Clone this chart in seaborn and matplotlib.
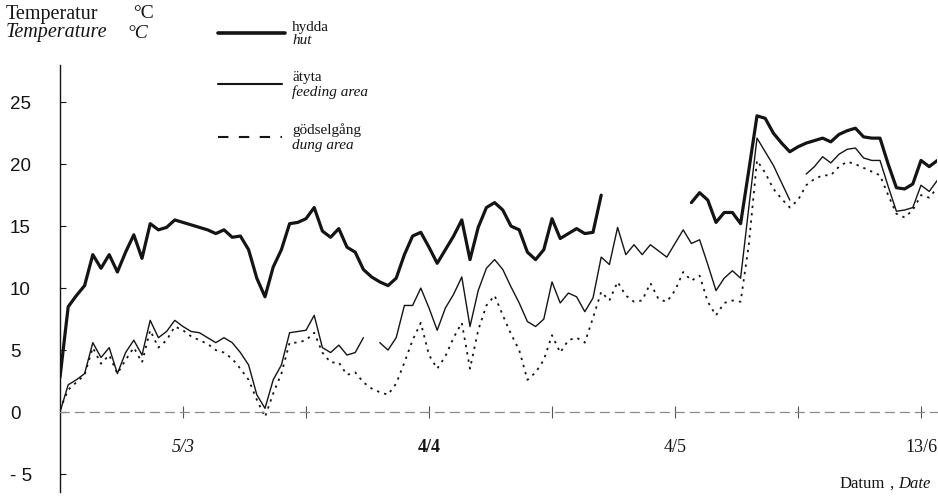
import numpy as np
import pandas as pd
import matplotlib
matplotlib.use("Agg")
import matplotlib.pyplot as plt
from matplotlib.lines import Line2D
import seaborn as sns

nan = np.nan
days = list(range(0, 108))

hut = [2.8, 8.5, 9.4, 10.2, 12.7, 11.6, 12.7, 11.3, 12.9, 14.3,
       12.4, 15.2, 14.7, 14.9, 15.5, 15.3, 15.1, 14.9, 14.7, 14.4,
       14.7, 14.1, 14.2, 13.1, 10.8, 9.3, 11.7, 13.1, 15.2, 15.3,
       15.6, 16.5, 14.6, 14.1, 14.8, 13.3, 12.9, 11.5, 10.9, 10.5,
       10.2, 10.8, 12.7, 14.2, 14.5, 13.3, 12.0, 13.1, 14.2, 15.5,
       12.3, 14.9, 16.5, 16.9, 16.3, 15.0, 14.7, 12.9, 12.3, 13.1,
       15.6, 14.0, 14.4, 14.8, 14.4, 14.5, 17.5, nan, nan, nan,
       nan, nan, nan, nan, nan, nan, nan, 16.9, 17.7, 17.1,
       15.3, 16.1, 16.1, 15.2, 19.5, 23.9, 23.7, 22.5, 21.7, 21.0,
       21.4, 21.7, 21.9, 22.1, 21.8, 22.4, 22.7, 22.9, 22.2, 22.1,
       22.1, 20.0, 18.1, 18.0, 18.4, 20.3, 19.8, 20.3]

feeding = [0.0, 2.2, 2.6, 3.1, 5.6, 4.4, 5.2, 3.1, 4.8, 5.8,
           4.6, 7.4, 6.0, 6.5, 7.4, 6.9, 6.5, 6.4, 6.0, 5.6,
           6.0, 5.6, 4.8, 3.8, 1.4, 0.3, 2.6, 3.8, 6.4, 6.5,
           6.6, 7.8, 5.2, 4.8, 5.4, 4.6, 4.8, 6.0, nan, 5.6,
           5.0, 6.0, 8.6, 8.6, 10.0, 8.4, 6.6, 8.4, 9.5, 10.9,
           6.9, 9.8, 11.6, 12.3, 11.5, 10.1, 8.8, 7.3, 6.9, 7.5,
           10.5, 8.8, 9.6, 9.3, 8.1, 9.2, 12.5, 11.9, 14.9, 12.7,
           13.5, 12.7, 13.5, 13.0, 12.5, 13.6, 14.7, 13.6, 13.9, 11.9,
           9.8, 10.8, 11.4, 10.8, 16.5, 22.1, 21.0, 19.9, 18.5, 17.1,
           nan, 19.2, 19.8, 20.6, 20.1, 20.8, 21.2, 21.3, 20.5, 20.3,
           20.3, 18.2, 16.2, 16.3, 16.5, 18.3, 17.8, 18.7]

dung = [0.2, 1.8, 2.4, 3.0, 5.2, 3.9, 4.6, 3.1, 4.2, 5.2,
        4.0, 6.6, 5.2, 5.8, 6.9, 6.6, 6.1, 5.8, 5.5, 5.0,
        4.8, 4.3, 3.5, 2.6, 1.0, -0.4, 1.5, 3.1, 5.6, 5.6,
        5.8, 6.4, 4.8, 4.0, 4.0, 3.0, 3.2, 2.4, 1.9, 1.6,
        1.4, 2.3, 4.0, 5.8, 7.2, 4.6, 3.5, 4.5, 6.0, 7.2,
        3.5, 6.6, 8.6, 9.4, 7.8, 6.3, 5.0, 2.6, 3.2, 4.2,
        6.2, 4.8, 5.8, 6.0, 5.6, 7.6, 9.7, 9.0, 10.5, 9.4,
        8.9, 9.0, 10.4, 9.1, 8.9, 9.8, 11.3, 10.6, 11.0, 8.9,
        7.8, 8.8, 9.0, 8.9, 13.5, 20.3, 19.3, 18.0, 17.2, 16.5,
        17.1, 18.3, 18.8, 19.1, 19.1, 19.8, 20.2, 20.0, 19.7, 19.4,
        19.1, 17.5, 16.0, 15.7, 16.3, 17.5, 17.3, 18.1]

yticks = [-5, 0, 5, 10, 15, 20, 25]
ytick_labels = ["- 5", "0", "5", "10", "15", "20", "25"]
xtick_pos = [15, 30, 45, 60, 75, 90, 105]
xtick_labels = ["5/3", "", "4/4", "", "4/5", "", "13/6"]

sns.set_theme(style="white")
plt.rcParams["font.family"] = ["Liberation Serif", "DejaVu Serif"]

W, H = 938, 497
fig = plt.figure(figsize=(W / 100, H / 100), dpi=100)
fig.patch.set_facecolor("white")
ax = fig.add_axes([60 / W, 5 / H, 877.4 / W, 427 / H])
ax.set_facecolor("white")

ink = "#141414"


def draw(values, **kw):
    df = pd.DataFrame({"day": days, "t": values})
    ok = df["t"].notna()
    grp = (~ok).cumsum()
    for _, seg in df[ok].groupby(grp[ok]):
        if len(seg) > 1:
            sns.lineplot(data=seg, x="day", y="t", ax=ax, estimator=None,
                         sort=False, legend=False, **kw)


draw(hut, color=ink, linewidth=2.3)
draw(feeding, color=ink, linewidth=1.0)
draw(dung, color=ink, linewidth=1.3, linestyle=(0, (1.3, 2.8)))

ax.set_xlim(0, 107)
ax.set_ylim(-6.45, 28.0)
ax.set_xlabel("")
ax.set_ylabel("")

for s in ["top", "right"]:
    ax.spines[s].set_visible(False)
ax.spines["left"].set_color(ink)
ax.spines["left"].set_linewidth(1.0)
ax.spines["bottom"].set_position(("data", 0))
ax.spines["bottom"].set_color("#8a8a8a")
ax.spines["bottom"].set_linewidth(0.9)
ax.spines["bottom"].set_linestyle((0, (7, 5)))

ax.set_yticks(yticks)
ax.set_yticklabels(ytick_labels, fontfamily="Liberation Sans", fontsize=13.5,
                   color=ink, ha="left")
ax.tick_params(axis="y", direction="in", length=4, width=0.8, color=ink,
               pad=36, left=True)
ax.set_xticks(xtick_pos)
ax.set_xticklabels(xtick_labels, fontsize=13, color=ink)
ax.tick_params(axis="x", direction="inout", length=9, width=0.8,
               color="#555555", pad=15, bottom=True)
styles = ["italic", "normal", "normal", "normal", "normal", "normal", "normal"]
for lab, st in zip(ax.get_xticklabels(), styles):
    lab.set_fontstyle(st)
ax.get_xticklabels()[2].set_fontweight("bold")


def fx(px):
    return px / W


def fy(py):
    return 1 - py / H


# Title
fig.text(fx(6), fy(14), "Temperatur", fontsize=14.5, color=ink,
         va="center", ha="left")
fig.text(fx(133), fy(14), "\u00b0C", fontsize=14, color=ink,
         va="center", ha="left")
fig.text(fx(6), fy(33), "Temperature", fontsize=14.5, color=ink,
         va="center", ha="left", fontstyle="italic")
fig.text(fx(127), fy(33), "\u00b0C", fontsize=14, color=ink,
         va="center", ha="left", fontstyle="italic")

# Legend
fig.add_artist(Line2D([fx(218), fx(285)], [fy(33), fy(33)], color=ink,
                      linewidth=2.6, transform=fig.transFigure))
fig.text(fx(292), fy(27), "hydda", fontsize=11, color=ink, va="center")
fig.text(fx(292), fy(41), "hut", fontsize=11, color=ink, va="center",
         fontstyle="italic")
fig.add_artist(Line2D([fx(218), fx(282)], [fy(84), fy(84)], color=ink,
                      linewidth=1.5, transform=fig.transFigure))
fig.text(fx(292), fy(77), "\u00e4tyta", fontsize=11, color=ink, va="center")
fig.text(fx(292), fy(92), "feeding area", fontsize=11, color=ink,
         va="center", fontstyle="italic")
fig.add_artist(Line2D([fx(218), fx(282)], [fy(137), fy(137)], color=ink,
                      linewidth=1.5, linestyle=(0, (5, 5)),
                      transform=fig.transFigure))
fig.text(fx(292), fy(130), "g\u00f6dselg\u00e5ng", fontsize=11, color=ink,
         va="center")
fig.text(fx(292), fy(145), "dung area", fontsize=11, color=ink,
         va="center", fontstyle="italic")

# X axis title
fig.text(fx(840), fy(484), "Datum", fontsize=12, color=ink, va="center")
fig.text(fx(889), fy(484), ",", fontsize=12, color=ink, va="center")
fig.text(fx(898), fy(484), "Date", fontsize=12, color=ink, va="center",
         fontstyle="italic")

fig.savefig("out.png", dpi=100, facecolor="white")
